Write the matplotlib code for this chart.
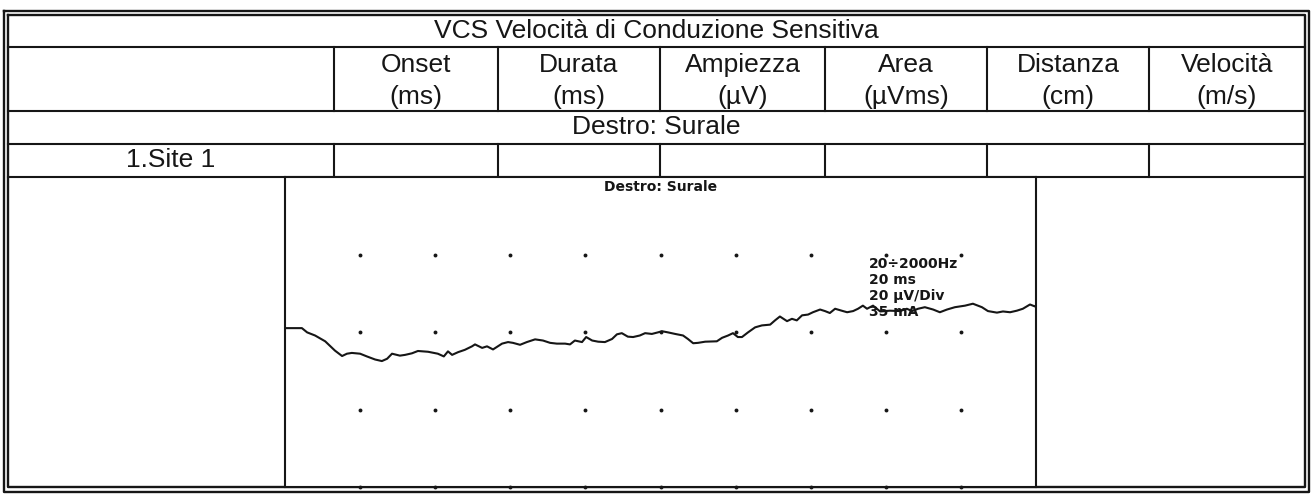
#VCS report page - sural nerve sensory conduction trace

import numpy as np
import matplotlib.pyplot as plt

#Table texts
title = "VCS Velocità di Conduzione Sensitiva"
col_names = ["Onset", "Durata", "Ampiezza", "Area", "Distanza", "Velocità"]
col_units = ["(ms)", "(ms)", "(µV)", "(µVms)", "(cm)", "(m/s)"]
section = "Destro: Surale"
site_label = "1.Site 1"

#Trace settings shown in the plot
trace_title = "Destro: Surale"
settings = ["20÷2000Hz", "20 ms", "20 µV/Div", "35 mA"]

#Trace: time (ms) and amplitude (µV, up positive)
t_ms = [0.00, 0.45, 0.59, 0.80, 1.07, 1.33, 1.52, 1.65, 1.78, 2.00, 2.18, 2.40, 2.58, 2.72,
        2.85, 3.06, 3.20, 3.38, 3.54, 3.81, 4.07, 4.23, 4.34, 4.45, 4.61, 4.79, 4.98,
        5.06, 5.25, 5.38, 5.54, 5.78, 5.94, 6.07, 6.26, 6.44, 6.66, 6.87, 7.06, 7.24, 7.46,
        7.59, 7.72, 7.91, 8.02, 8.18, 8.34, 8.52, 8.71, 8.84, 8.97, 9.13, 9.27, 9.45, 9.59,
        9.77, 9.93,
        10.04, 10.20, 10.39, 10.60, 10.73, 10.87, 11.00, 11.19, 11.50, 11.64, 11.80, 11.93,
        12.06, 12.17, 12.33, 12.52, 12.70, 12.92, 13.05, 13.18, 13.37, 13.50, 13.63, 13.77,
        13.93, 14.06, 14.25, 14.38, 14.51, 14.65, 14.86,
        14.97, 15.13, 15.26, 15.39, 15.50, 15.66, 15.85, 16.11, 16.38, 16.56, 16.70, 16.86,
        17.04, 17.26, 17.44, 17.63, 17.84, 18.11, 18.32, 18.56, 18.72, 18.96, 19.12, 19.31,
        19.49, 19.65, 19.84, 19.97, 20.0]
amp_uv = [1.0, 1.0, -0.1, -0.9, -2.4, -4.8, -6.2, -5.6, -5.4, -5.6, -6.3, -7.1, -7.5, -6.9,
          -5.6, -6.1, -5.9, -5.5, -4.9, -5.1, -5.6, -6.3, -5.0, -5.9, -5.2, -4.6, -3.7,
          -3.2, -4.1, -3.7, -4.5, -3.0, -2.6, -2.8, -3.3, -2.6, -1.9, -2.2, -2.8, -3.0, -3.0,
          -3.2, -2.2, -2.6, -1.3, -2.2, -2.5, -2.6, -1.8, -0.6, -0.3, -1.2, -1.3, -0.9, -0.3,
          -0.5, -0.1,
          0.2, -0.1, -0.5, -0.9, -1.8, -2.9, -2.8, -2.5, -2.4, -1.5, -0.9, -0.3,
          -1.3, -1.3, -0.1, 1.2, 1.7, 1.9, 3.0, 4.0, 2.8, 3.4, 3.0, 4.3,
          4.5, 5.1, 5.8, 5.4, 4.9, 6.0, 5.4,
          5.1, 5.4, 6.0, 6.8, 6.0, 6.8, 5.3, 5.5, 5.4, 6.0, 5.4, 6.0,
          6.4, 5.8, 5.1, 5.8, 6.4, 6.8, 7.3, 6.4, 5.4, 5.0, 5.3, 5.1,
          5.5, 6.0, 7.1, 6.6, 6.9]

#Sweep / gain: 10 x 2 ms, 4 x 20 uV
ms_per_div = 2
uv_per_div = 20

W, H = 1312, 495
ink = "#161616"

fig = plt.figure(figsize=(W / 100, H / 100), dpi=100)
fig.patch.set_facecolor("white")

#Page axes in pixel units for the table
page = fig.add_axes([0, 0, 1, 1])
page.set_xlim(0, W)
page.set_ylim(H, 0)
page.axis("off")

#double outer frame
for x0, y0, x1, y1 in [(4, 11, 1309, 492), (8, 15, 1305, 487)]:
    page.plot([x0, x1, x1, x0, x0], [y0, y0, y1, y1, y0], color=ink, lw=1.7)

#row lines
for y in [47, 111, 144, 177]:
    page.plot([8, 1305], [y, y], color=ink, lw=1.5)

#column lines in header row and site row
col_x = [334, 498, 660, 825, 987, 1149, 1305]
for x in col_x[:-1]:
    page.plot([x, x], [47, 111], color=ink, lw=1.5)
    page.plot([x, x], [144, 177], color=ink, lw=1.5)

txt = dict(family="Liberation Sans", fontsize=19, color=ink, ha="center", va="center")
page.text(656, 31, title, **txt)
for i in range(len(col_names)):
    xc = (col_x[i] + col_x[i + 1]) / 2
    page.text(xc, 65, col_names[i], **txt)
    page.text(xc, 97, col_units[i], **txt)
page.text(656, 127, section, **txt)
page.text(171, 160, site_label, **txt)

#Trace axes
ax = fig.add_axes([285 / W, 1 - 487 / H, (1036 - 285) / W, (487 - 177) / H])
ax.set_xlim(0, 10 * ms_per_div)
ax.set_ylim(-2 * uv_per_div, 2 * uv_per_div)
ax.set_xticks([])
ax.set_yticks([])
for s in ax.spines.values():
    s.set_color(ink)
    s.set_linewidth(1.5)

#dot grid
gx, gy = np.meshgrid(np.arange(1, 10) * ms_per_div, np.arange(-2, 2) * uv_per_div)
ax.plot(gx.ravel(), gy.ravel(), "o", color=ink, ms=2.8, mew=0, clip_on=False, zorder=2)

ax.plot(t_ms, amp_uv, color=ink, lw=1.5, zorder=4)

bold = dict(family=["DejaVu Sans Condensed", "DejaVu Sans"], fontsize=10,
            fontweight="bold", color=ink)
ax.text(0.5, 0.99, trace_title, transform=ax.transAxes, ha="center", va="top", **bold)
for i, s in enumerate(settings):
    ax.text(0.778, 0.72 - i * 0.052, s, transform=ax.transAxes, ha="left", va="center",
            zorder=3, **bold)

fig.savefig("out.png", dpi=100, facecolor="white")
